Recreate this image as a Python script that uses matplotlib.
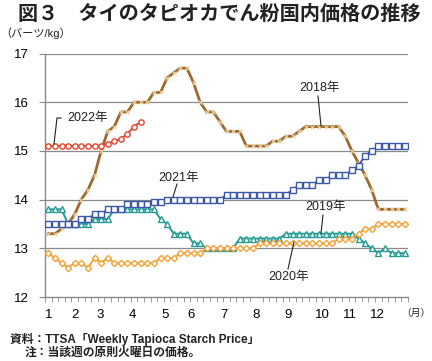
import matplotlib
matplotlib.use("Agg")
import matplotlib.pyplot as plt
import numpy as np

plt.rcParams["font.family"] = ["Liberation Sans", "Noto Sans CJK JP", "DejaVu Sans"]

# weekly prices (baht/kg), one value per week
y2018 = [13.3, 13.3, 13.4, 13.5, 13.7, 14.0, 14.2, 14.5, 15.0, 15.4,
         15.5, 15.8, 15.8, 16.0, 16.0, 16.0, 16.2, 16.2, 16.5, 16.6,
         16.7, 16.7, 16.4, 16.0, 15.8, 15.8, 15.6, 15.4, 15.4, 15.4,
         15.1, 15.1, 15.1, 15.1, 15.2, 15.2, 15.3, 15.3, 15.4, 15.5,
         15.5, 15.5, 15.5, 15.5, 15.5, 15.3, 15.0, 14.75, 14.5, 14.2,
         13.8, 13.8, 13.8, 13.8, 13.8]
y2019 = [13.8, 13.8, 13.8, 13.5, 13.5, 13.5, 13.5, 13.6, 13.6, 13.6,
         13.8, 13.8, 13.8, 13.8, 13.8, 13.8, 13.8, 13.6, 13.5, 13.3,
         13.3, 13.3, 13.1, 13.1, 13.0, 13.0, 13.0, 13.0, 13.0, 13.2,
         13.2, 13.2, 13.2, 13.2, 13.2, 13.2, 13.3, 13.3, 13.3, 13.3,
         13.3, 13.3, 13.3, 13.3, 13.3, 13.3, 13.3, 13.2, 13.1, 13.0,
         12.9, 13.0, 12.9, 12.9, 12.9]
y2020 = [12.9, 12.8, 12.7, 12.6, 12.7, 12.7, 12.6, 12.8, 12.7, 12.8,
         12.7, 12.7, 12.7, 12.7, 12.7, 12.7, 12.7, 12.8, 12.8, 12.8,
         12.9, 12.9, 12.9, 12.9, 13.0, 13.0, 13.0, 13.0, 13.0, 13.0,
         13.0, 13.0, 13.1, 13.1, 13.1, 13.1, 13.1, 13.1, 13.1, 13.1,
         13.1, 13.1, 13.1, 13.1, 13.2, 13.2, 13.2, 13.3, 13.4, 13.4,
         13.5, 13.5, 13.5, 13.5, 13.5]
y2021 = [13.5, 13.5, 13.5, 13.5, 13.5, 13.6, 13.6, 13.7, 13.7, 13.8,
         13.8, 13.8, 13.9, 13.9, 13.9, 13.9, 13.95, 13.95, 14.0, 14.0,
         14.0, 14.0, 14.0, 14.0, 14.0, 14.0, 14.0, 14.1, 14.1, 14.1,
         14.1, 14.1, 14.1, 14.1, 14.1, 14.1, 14.1, 14.2, 14.3, 14.3,
         14.3, 14.4, 14.4, 14.5, 14.5, 14.5, 14.6, 14.7, 14.9, 15.0,
         15.1, 15.1, 15.1, 15.1, 15.1]
y2022 = [15.1, 15.1, 15.1, 15.1, 15.1, 15.1, 15.1, 15.1, 15.1, 15.15,
         15.2, 15.25, 15.35, 15.5, 15.6]

months = ["1", "2", "3", "4", "5", "6", "7", "8", "9", "10", "11", "12"]
month_pos = [0, 4.05, 7.8, 12.8, 17.7, 21.6, 26.6, 31.5, 36.3, 41.6, 45.7, 49.9]

W, H = 432, 361
fig = plt.figure(figsize=(W / 100, H / 100), dpi=100)
ax = fig.add_axes([45 / W, 1 - 297 / H, 363 / W, (297 - 53.5) / H])


def px(x, y):
    return x / W, 1 - y / H


grid_c = "#8a8a8a"
ax.set_xlim(-0.5, 54.5)
ax.set_ylim(12, 17)
ax.set_yticks([12, 13, 14, 15, 16, 17])
for v in [13, 14, 15, 16, 17]:
    ax.axhline(v, color=grid_c, lw=0.9, zorder=1)
for s in ["top", "right"]:
    ax.spines[s].set_visible(False)
for s in ["left", "bottom"]:
    ax.spines[s].set_color(grid_c)
    ax.spines[s].set_linewidth(1.0)

ax.set_xticks(month_pos)
ax.set_xticklabels(months)
ax.set_xticks(np.arange(-0.5, 55, 1), minor=True)
ax.tick_params(axis="x", which="major", length=0, pad=9, labelsize=9.5)
ax.tick_params(axis="x", which="minor", length=3.5, color=grid_c, direction="out")
ax.tick_params(axis="y", length=4, color=grid_c, labelsize=9.5, pad=8)

x18 = np.arange(len(y2018))
ax.plot(x18, y2018, color="#9c6a2e", lw=2.0, marker="x", ms=2.4,
        mec="#f0d6a8", mew=0.8, zorder=3)
ax.plot(np.arange(len(y2019)), y2019, color="#239a94", lw=1.4, marker="^",
        ms=4.0, mfc="white", mec="#239a94", mew=1.0, zorder=4)
ax.plot(np.arange(len(y2020)), y2020, color="#f4a238", lw=1.4, marker="D",
        ms=3.2, mfc="white", mec="#f4a238", mew=1.0, zorder=4)
ax.plot(np.arange(len(y2021)), y2021, color="#3a58a8", lw=1.4, marker="s",
        ms=4.0, mfc="white", mec="#3a58a8", mew=1.0, zorder=5)
ax.plot(np.arange(len(y2022)), y2022, color="#e8452c", lw=1.4, marker="o",
        ms=3.8, mfc="white", mec="#e8452c", mew=1.0, zorder=6)

# series labels with leader lines (figure pixel coords)
labels = [
    ("2022年", (67, 118), [(61, 118), (57, 118), (54, 144)]),
    ("2021年", (158, 178), [(177, 184), (173, 197)]),
    ("2018年", (299, 88), [(318, 96), (321, 126)]),
    ("2019年", (305, 207), [(323, 215), (321, 233)]),
    ("2020年", (268, 277), [(288, 269), (294, 242)]),
]
for txt, (tx, ty), pts in labels:
    fx, fy = px(tx, ty)
    fig.text(fx, fy, txt, fontsize=9, ha="left", va="center", color="#222222")
    xs = [px(a, b)[0] for a, b in pts]
    ys = [px(a, b)[1] for a, b in pts]
    fig.add_artist(plt.Line2D(xs, ys, color="#222222", lw=0.8,
                              transform=fig.transFigure))

fig.text(*px(18, 14), "図３　タイのタピオカでん粉国内価格の推移", fontsize=14.5,
         fontweight="bold", ha="left", va="center", color="#222222")
fig.text(*px(0, 33), "（バーツ/kg）", fontsize=8, ha="left", va="center",
         color="#222222")
fig.text(*px(431, 313), "（月）", fontsize=7, ha="right", va="center",
         color="#222222")
fig.text(*px(10, 339), "資料：TTSA「Weekly Tapioca Starch Price」", fontsize=8.5,
         fontweight="bold", ha="left", va="center", color="#222222")
fig.text(*px(25, 353), "注：当該週の原則火曜日の価格。", fontsize=8.5,
         fontweight="bold", ha="left", va="center", color="#222222")

fig.savefig("out.png", dpi=100)
